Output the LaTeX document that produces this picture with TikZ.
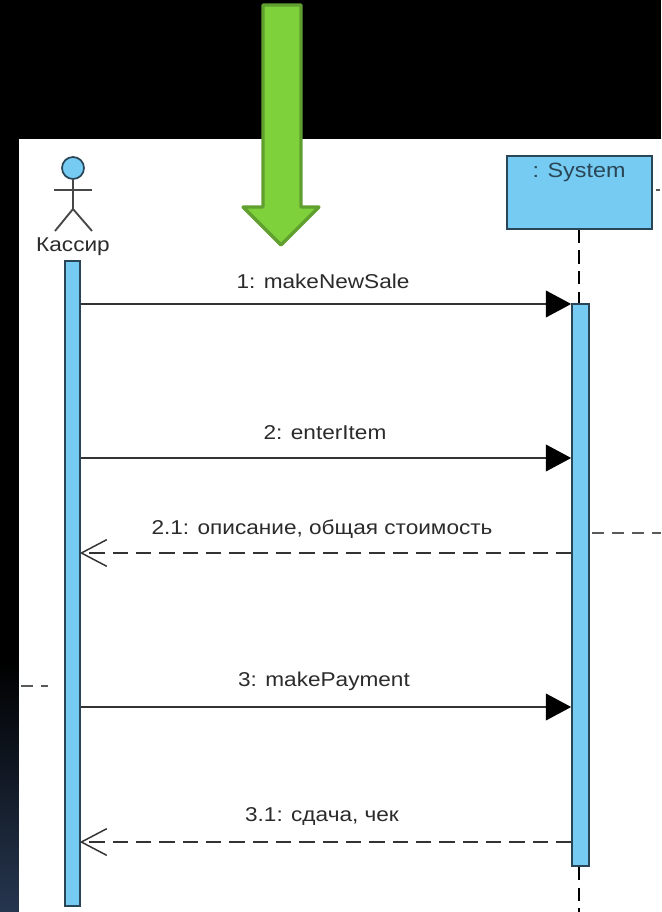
\documentclass[tikz,border=0pt]{standalone}
\usepackage{fontspec}
\setmainfont[FakeStretch=1.13]{Liberation Sans}
\usetikzlibrary{arrows.meta}
\definecolor{lifeblue}{HTML}{76CBF2}
\definecolor{edgeblue}{HTML}{2A4656}
\definecolor{inkgray}{HTML}{2B2B2B}
\definecolor{arrowgreen}{HTML}{7FD13B}
\definecolor{arrowedge}{HTML}{609F30}
\definecolor{stripblue}{HTML}{26364F}
\tikzset{
  x=0.75pt,y=-0.75pt,
  bar/.style={draw=edgeblue,line width=1.5pt,fill=lifeblue,inner sep=0pt,minimum width=0pt},
  msgtext/.style={text=inkgray,font=\fontsize{15}{17}\selectfont,inner sep=0pt},
  callmsg/.style={draw=black!80,line width=1.4pt,-{Triangle[length=19pt,width=20pt,fill=black,color=black]}},
  retmsg/.style={draw=black!80,line width=1.4pt,dash pattern=on 11.5pt off 6pt,shorten >=-1pt,-{Straight Barb[length=19pt,width=20pt,line width=1.1pt]}},
  lifedash/.style={draw=black,line width=1.5pt,dash pattern=on 10pt off 5.5pt},
  stray/.style={draw=black!65,line width=1.3pt,dash pattern=on 9pt off 6pt},
  stick/.style={draw=black!72,line width=1.4pt}
}
\begin{document}
\begin{tikzpicture}
\useasboundingbox (0,0) rectangle (661,912);
\fill[black] (0,0) rectangle (661,912);
\shade[top color=black,bottom color=stripblue] (0,660) rectangle (19,912);
\fill[white] (19,139) rectangle (661,912);
% actor
\node[circle,draw=edgeblue,line width=1.3pt,fill=lifeblue,minimum size=16.5pt,inner sep=0pt] (head) at (73,168) {};
\coordinate (armL) at (54,190);
\coordinate (armR) at (92,190);
\coordinate (hip) at (73,209);
\coordinate (footL) at (55,231);
\coordinate (footR) at (92,231);
\draw[stick] (head) -- (hip);
\draw[stick] (armL) -- (armR);
\draw[stick] (footL) -- (hip) -- (footR);
\node[msgtext] (actorname) at (73,247) {Кассир};
% system
\node[bar,minimum width=108.5pt,minimum height=54.5pt] (sys) at (579.5,192.5) {};
\node[text=edgeblue,font=\fontsize{15.5}{17}\selectfont,inner sep=0pt] (systext) at (579,172) {: System};
% activations
\node[bar,minimum width=11.5pt,minimum height=483.5pt] (barL) at (72.5,583.5) {};
\node[bar,minimum width=12.5pt,minimum height=421.5pt] (barR) at (580.5,585) {};
% lifeline
\coordinate (lifeEnd) at (579,912);
\draw[lifedash] (sys.south -| 579,0) -- (barR.north -| 579,0);
\draw[lifedash] (barR.south -| 579,0) -- (lifeEnd);
% messages
\coordinate (a1) at (barL.east |- 0,304); \coordinate (b1) at (barR.west |- 0,304);
\coordinate (a2) at (barL.east |- 0,458); \coordinate (b2) at (barR.west |- 0,458);
\coordinate (a3) at (barL.east |- 0,553); \coordinate (b3) at (barR.west |- 0,553);
\coordinate (a4) at (barL.east |- 0,707); \coordinate (b4) at (barR.west |- 0,707);
\coordinate (a5) at (barL.east |- 0,842); \coordinate (b5) at (barR.west |- 0,842);
\draw[callmsg] (a1) -- (b1);
\draw[callmsg] (a2) -- (b2);
\draw[retmsg] (b3) -- (a3);
\draw[callmsg] (a4) -- (b4);
\draw[retmsg] (b5) -- (a5);
\node[msgtext] (m1) at (323,281) {1: makeNewSale};
\node[msgtext] (m2) at (325,433) {2: enterItem};
\node[msgtext] (m3) at (322,529) {2.1: описание, общая стоимость};
\node[msgtext] (m4) at (324,681) {3: makePayment};
\node[msgtext] (m5) at (322,817) {3.1: сдача, чек};
% stray fragments
\coordinate (s1a) at (592,533); \coordinate (s1b) at (661,533);
\coordinate (s2a) at (21,686); \coordinate (s2b) at (48,686);
\coordinate (s3a) at (656,190); \coordinate (s3b) at (660,190);
\draw[stray] (s1a) -- (s1b);
\draw[stray] (s2a) -- (s2b);
\draw[stray] (s3a) -- (s3b);
% green arrow
\draw[fill=arrowgreen,draw=arrowedge,line width=2.4pt,line join=round]
 (263,5) -- (301,5) -- (301,207) -- (319,207) -- (281,245) -- (243,207) -- (263,207) -- cycle;
\end{tikzpicture}
\end{document}
